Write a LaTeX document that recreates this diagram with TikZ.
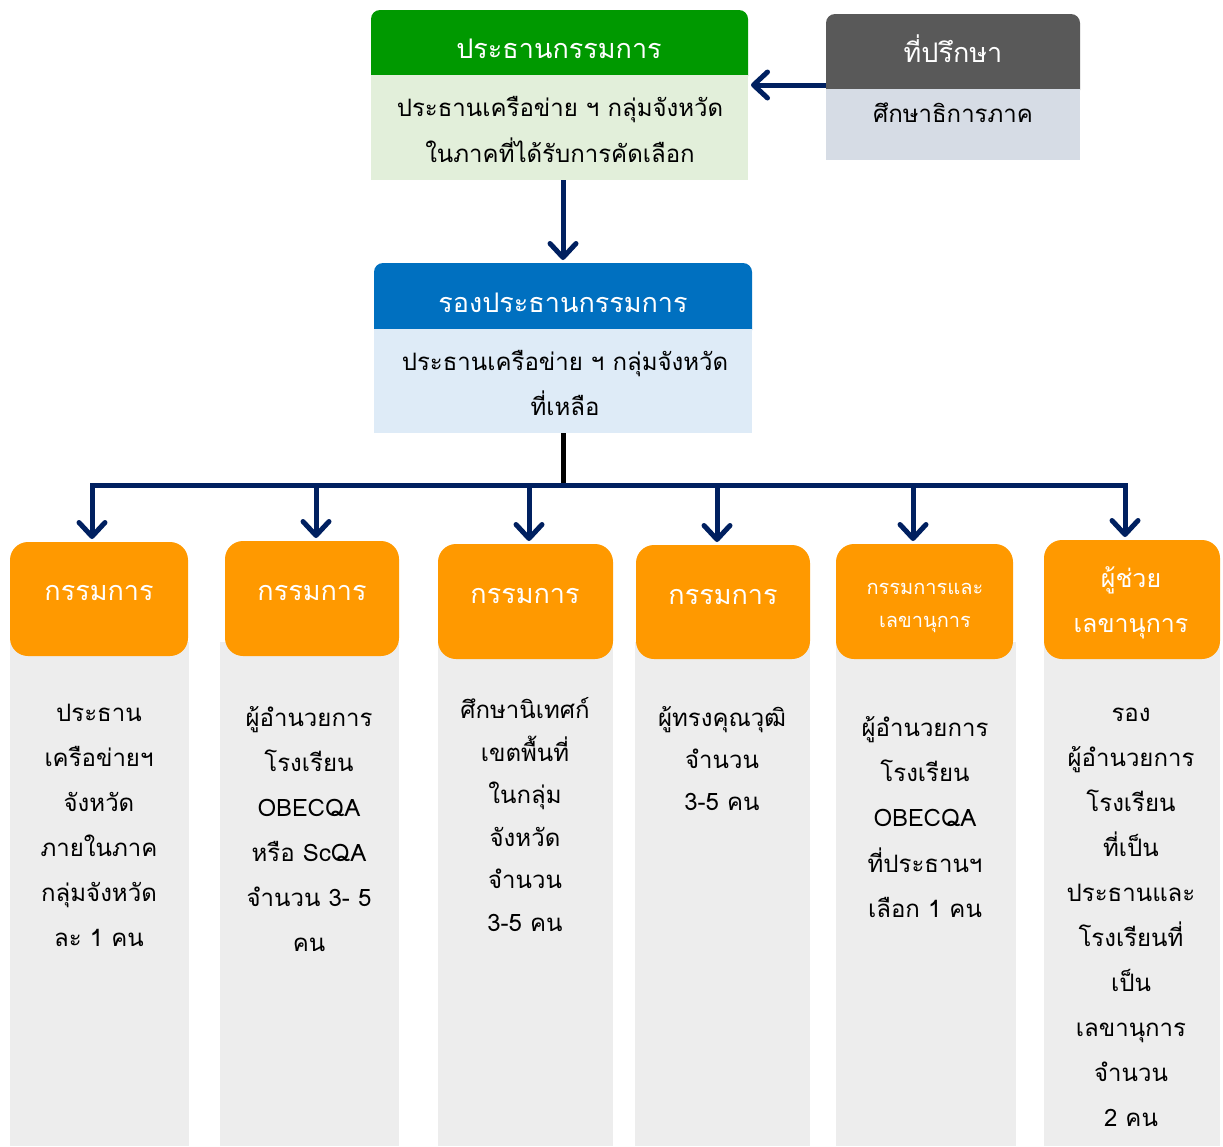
\documentclass[tikz,border=0pt]{standalone}
\usepackage{fontspec}
\setmainfont[Script=Thai]{Loma}
\usetikzlibrary{arrows.meta}
\definecolor{chiefhead}{RGB}{0,153,0}
\definecolor{chiefbody}{RGB}{226,239,218}
\definecolor{advhead}{RGB}{89,89,89}
\definecolor{advbody}{RGB}{214,220,229}
\definecolor{vicehead}{RGB}{0,112,192}
\definecolor{vicebody}{RGB}{222,235,247}
\definecolor{memorange}{RGB}{255,153,0}
\definecolor{colgrey}{RGB}{237,237,237}
\definecolor{navy}{RGB}{0,32,96}

\begin{document}
\begin{tikzpicture}[x=1pt,y=-1pt,
  panel/.style={inner sep=0pt,outer sep=0pt},
  headtxt/.style={text=white,inner sep=0pt,text height=20pt,text depth=0pt,font=\fontsize{27}{27}\selectfont},
  bodytxt/.style={inner sep=0pt,text height=19pt,text depth=0pt,font=\fontsize{24}{24}\selectfont},
  link/.style={navy,line width=5pt,shorten >=3pt,-{Straight Barb[length=14pt,width=26pt,round]}}]
  \useasboundingbox (0,0) rectangle (1223,1146);

  % top boxes
  \node[panel,fill=chiefhead,rounded corners=9pt,minimum width=377pt,minimum height=75pt] (chiefT) at (559.5,47.5) {};
  \node[panel,fill=chiefbody,minimum width=377pt,minimum height=105pt] (chiefB) at (559.5,127.5) {};
  \node[panel,fill=advhead,rounded corners=9pt,minimum width=254pt,minimum height=85pt] (advT) at (953,56.5) {};
  \node[panel,fill=advbody,minimum width=254pt,minimum height=71pt] (advB) at (953,124.5) {};
  \node[panel,fill=vicehead,rounded corners=9pt,minimum width=378pt,minimum height=76pt] (viceT) at (563,301) {};
  \node[panel,fill=vicebody,minimum width=378pt,minimum height=104pt] (viceB) at (563,381) {};

  \node[headtxt] (chiefH) at (559,48) {ประธานกรรมการ};
  \node[bodytxt] (chiefL1) at (560,107) {ประธานเครือข่าย ฯ กลุ่มจังหวัด};
  \node[bodytxt] (chiefL2) at (560,153) {ในภาคที่ได้รับการคัดเลือก};
  \node[headtxt] (advH) at (953,52) {ที่ปรึกษา};
  \node[bodytxt] (advL1) at (953,113) {ศึกษาธิการภาค};
  \node[headtxt] (viceH) at (563,302) {รองประธานกรรมการ};
  \node[bodytxt] (viceL1) at (565,361) {ประธานเครือข่าย ฯ กลุ่มจังหวัด};
  \node[bodytxt] (viceL2) at (565,406) {ที่เหลือ};

  % member columns
  \node[panel,fill=colgrey,minimum width=179pt,minimum height=504pt] (g1) at (99.5,894) {};
  \node[panel,fill=colgrey,minimum width=179pt,minimum height=504pt] (g2) at (309.5,894) {};
  \node[panel,fill=colgrey,minimum width=175pt,minimum height=504pt] (g3) at (525.5,894) {};
  \node[panel,fill=colgrey,minimum width=175pt,minimum height=504pt] (g4) at (722.5,894) {};
  \node[panel,fill=colgrey,minimum width=180pt,minimum height=504pt] (g5) at (926,894) {};
  \node[panel,fill=colgrey,minimum width=176pt,minimum height=504pt] (g6) at (1132,894) {};

  \node[panel,fill=memorange,rounded corners=18pt,minimum width=178pt,minimum height=114pt] (o1) at (99,599) {};
  \node[panel,fill=memorange,rounded corners=18pt,minimum width=174pt,minimum height=115pt] (o2) at (312,598.5) {};
  \node[panel,fill=memorange,rounded corners=18pt,minimum width=175pt,minimum height=115pt] (o3) at (525.5,601.5) {};
  \node[panel,fill=memorange,rounded corners=18pt,minimum width=174pt,minimum height=114pt] (o4) at (723,602) {};
  \node[panel,fill=memorange,rounded corners=18pt,minimum width=177pt,minimum height=115pt] (o5) at (924.5,601.5) {};
  \node[panel,fill=memorange,rounded corners=18pt,minimum width=176pt,minimum height=119pt] (o6) at (1132,599.5) {};

  \node[headtxt] (o1H) at (99,590) {กรรมการ};
  \node[headtxt] (o2H) at (312,590) {กรรมการ};
  \node[headtxt] (o3H) at (525,593) {กรรมการ};
  \node[headtxt] (o4H) at (723,594) {กรรมการ};
  \node[headtxt,font=\fontsize{20}{20}\selectfont,text height=15pt] (o5H1) at (925,587) {กรรมการและ};
  \node[headtxt,font=\fontsize{20}{20}\selectfont,text height=15pt] (o5H2) at (925,620) {เลขานุการ};
  \node[headtxt,font=\fontsize{25}{25}\selectfont,text height=19pt] (o6H1) at (1131,578) {ผู้ช่วย};
  \node[headtxt,font=\fontsize{25}{25}\selectfont,text height=19pt] (o6H2) at (1131,623) {เลขานุการ};

  \foreach \t [count=\i from 0] in {ประธาน,เครือข่ายฯ,จังหวัด,ภายในภาค,กลุ่มจังหวัด,ละ 1 คน}
    \node[bodytxt] (c1-\i) at (99,712+45*\i) {\t};
  \foreach \t [count=\i from 0] in {ผู้อำนวยการ,โรงเรียน,OBECQA,หรือ ScQA,จำนวน 3- 5,คน}
    \node[bodytxt] (c2-\i) at (309,717+45*\i) {\t};
  \foreach \t [count=\i from 0] in {ศึกษานิเทศก์,เขตพื้นที่,ในกลุ่ม,จังหวัด,จำนวน,3-5 คน}
    \node[bodytxt] (c3-\i) at (525,709+42.6*\i) {\t};
  \foreach \t [count=\i from 0] in {ผู้ทรงคุณวุฒิ,จำนวน,3-5 คน}
    \node[bodytxt] (c4-\i) at (722,717+42*\i) {\t};
  \foreach \t [count=\i from 0] in {ผู้อำนวยการ,โรงเรียน,OBECQA,ที่ประธานฯ,เลือก 1 คน}
    \node[bodytxt] (c5-\i) at (925,727+45.2*\i) {\t};
  \foreach \t [count=\i from 0] in {รอง,ผู้อำนวยการ,โรงเรียน,ที่เป็น,ประธานและ,โรงเรียนที่,เป็น,เลขานุการ,จำนวน,2 คน}
    \node[bodytxt] (c6-\i) at (1131,712+45*\i) {\t};

  % connectors
  \draw[link] ([yshift=4pt]advB.north west) -- ([yshift=4pt]advB.north west -| chiefB.east);
  \draw[link] (viceT.north |- chiefB.south) -- (viceT.north);
  \coordinate (bus) at (563,485);
  \coordinate (b1) at (92,485);
  \coordinate (b2) at (316,485);
  \coordinate (b3) at (529,485);
  \coordinate (b4) at (717,485);
  \coordinate (b5) at (913,485);
  \coordinate (b6) at (1125,485);
  \draw[black,line width=5pt] (viceB.south) -- ([yshift=-2pt]bus);
  \draw[navy,line width=5pt,line cap=rect] (b1) -- (b6);
  \draw[link] (b1) -- (b1 |- o1.north);
  \draw[link] (b2) -- (b2 |- o2.north);
  \draw[link] (b3) -- (b3 |- o3.north);
  \draw[link] (b4) -- (b4 |- o4.north);
  \draw[link] (b5) -- (b5 |- o5.north);
  \draw[link] (b6) -- (b6 |- o6.north);
\end{tikzpicture}
\end{document}
